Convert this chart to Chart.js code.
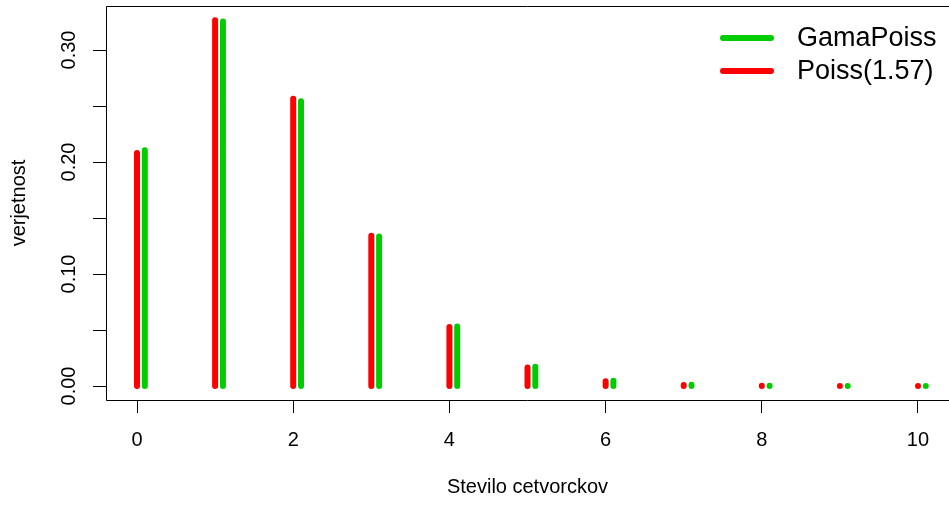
<!DOCTYPE html>
<html>
<head>
<meta charset="utf-8">
<script src="https://cdn.jsdelivr.net/npm/chart.js@4.4.1/dist/chart.umd.min.js"></script>
<style>
  html, body { margin: 0; padding: 0; background: #fff; }
</style>
</head>
<body>
<canvas id="chart" width="949" height="508"></canvas>
<script>
// stevilo cetvorckov 0..10
const counts = [0, 1, 2, 3, 4, 5, 6, 7, 8, 9, 10];
const poissValues = [0.208, 0.3266, 0.2564, 0.1342, 0.0527, 0.0165, 0.0043, 0.00097, 0.00019, 0.00003, 0.000005];
const gamaValues = [0.2104, 0.3254, 0.2543, 0.1334, 0.0532, 0.0172, 0.0047, 0.0011, 0.00024, 0.00005, 0.00001];
const seriesNames = ['GamaPoiss', 'Poiss(1.57)'];

const xTicks = [0, 2, 4, 6, 8, 10];
const xTickLabels = ['0', '2', '4', '6', '8', '10'];
const yTicks = [0, 0.05, 0.10, 0.15, 0.20, 0.25, 0.30];
const yTickLabels = ['0.00', '', '0.10', '', '0.20', '', '0.30'];

const FONT = '"Liberation Sans", Arial, Helvetica, sans-serif';

// navpicne crte (type="h"): od 0 do vrednosti, z luknjo vmes
function spikes(values, shift) {
  const pts = [];
  counts.forEach((k, i) => {
    pts.push({x: k + shift, y: 0}, {x: k + shift, y: values[i]}, {x: k + shift, y: null});
  });
  return pts;
}

const boxPlugin = {
  id: 'rBox',
  afterDraw(chart) {
    const {ctx} = chart;
    const {left, top, right, bottom} = chart.chartArea;
    ctx.save();
    ctx.strokeStyle = '#000';
    ctx.lineWidth = 1;
    ctx.beginPath();
    ctx.moveTo(right, top + 0.5);
    ctx.lineTo(left + 0.5, top + 0.5);
    ctx.lineTo(left + 0.5, bottom + 0.5);
    ctx.lineTo(right, bottom + 0.5);
    ctx.stroke();
    ctx.restore();
  }
};

const legendPlugin = {
  id: 'rLegend',
  afterDraw(chart) {
    const {ctx} = chart;
    ctx.save();
    ctx.lineCap = 'round';
    ctx.lineWidth = 6;
    ctx.font = '27px ' + FONT;
    ctx.textBaseline = 'middle';
    ctx.textAlign = 'left';
    chart.data.datasets.forEach((ds, i) => {
      const y = 38 + i * 33;
      ctx.strokeStyle = ds.borderColor;
      ctx.beginPath();
      ctx.moveTo(723, y);
      ctx.lineTo(771, y);
      ctx.stroke();
      ctx.fillStyle = '#000';
      ctx.fillText(ds.label, 797, y + 1);
    });
    ctx.restore();
  }
};

const lineStyle = {
  borderWidth: 6,
  borderCapStyle: 'round',
  pointRadius: 0,
  pointHoverRadius: 0,
  fill: false,
  tension: 0,
  spanGaps: false
};

new Chart(document.getElementById('chart'), {
  type: 'line',
  data: {
    datasets: [
      Object.assign({label: seriesNames[0], data: spikes(gamaValues, 0.1), borderColor: '#00CD00'}, lineStyle),
      Object.assign({label: seriesNames[1], data: spikes(poissValues, 0), borderColor: '#FF0000'}, lineStyle)
    ]
  },
  options: {
    responsive: false,
    animation: false,
    events: [],
    layout: {padding: {top: 6, right: 0, bottom: 0, left: 0}},
    plugins: {
      legend: {display: false},
      tooltip: {enabled: false}
    },
    scales: {
      x: {
        type: 'linear',
        min: -0.397,
        max: 10.397,
        afterBuildTicks: s => { s.ticks = xTicks.map(v => ({value: v})); },
        afterFit: s => { s.height = 108; s.paddingLeft = 0; s.paddingRight = 0; },
        ticks: {
          callback: (v, i) => xTickLabels[i],
          autoSkip: false,
          maxRotation: 0,
          padding: 15,
          color: '#000',
          font: {family: FONT, size: 20}
        },
        grid: {drawOnChartArea: false, drawTicks: true, tickLength: 13, tickColor: '#000', tickWidth: 1},
        border: {display: false},
        title: {display: true, text: 'Stevilo cetvorckov', color: '#000', padding: 9, font: {family: FONT, size: 20}}
      },
      y: {
        type: 'linear',
        min: -0.0125,
        max: 0.3393,
        afterBuildTicks: s => { s.ticks = yTicks.map(v => ({value: v})); },
        afterFit: s => { s.width = 106; s.paddingTop = 0; s.paddingBottom = 0; },
        ticks: {
          callback: (v, i) => yTickLabels[i],
          autoSkip: false,
          minRotation: 90,
          maxRotation: 90,
          crossAlign: 'center',
          padding: 4.5,
          color: '#000',
          font: {family: FONT, size: 20}
        },
        grid: {drawOnChartArea: false, drawTicks: true, tickLength: 13, tickColor: '#000', tickWidth: 1},
        border: {display: false},
        title: {display: true, text: 'verjetnost', color: '#000', padding: 7.5, font: {family: FONT, size: 20}}
      }
    }
  },
  plugins: [boxPlugin, legendPlugin]
});
</script>
</body>
</html>
